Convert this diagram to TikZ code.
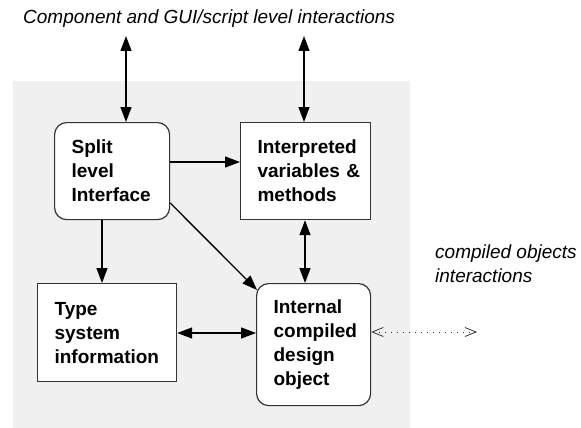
\documentclass[tikz,border=0pt]{standalone}
\usepackage{fontspec}
\setmainfont{Liberation Sans}
\usetikzlibrary{arrows.meta}
\definecolor{bggray}{HTML}{F0F0F0}
\definecolor{boxline}{HTML}{333333}
\tikzset{
  box/.style={draw=boxline, line width=1.2pt, fill=white, anchor=north west,
    inner xsep=17pt, inner ysep=0pt, align=left,
    font=\bfseries\fontsize{19}{24}\selectfont},
  rbox/.style={box, rounded corners=12pt},
  arr/.style={line width=1.3pt, -{Triangle[length=15pt,width=11pt]}},
  darr/.style={line width=1.3pt, {Triangle[length=15pt,width=11pt]}-{Triangle[length=15pt,width=11pt]}},
  dotarr/.style={line width=1pt, draw=black!80, dash pattern=on 1pt off 5pt,
    {Straight Barb[length=11pt,width=9pt,line width=0.8pt]}-{Straight Barb[length=11pt,width=9pt,line width=0.8pt]}},
  lab/.style={font=\itshape\fontsize{19}{24}\selectfont, inner sep=0pt, align=left}
}
\begin{document}
\begin{tikzpicture}[x=1pt,y=-1pt]
\useasboundingbox (0,0) rectangle (581,428);
\fill[bggray] (13,81) rectangle (410,428);

\node[rbox, minimum width=113pt, minimum height=97pt, text width=81pt] (split) at (54,122)
  {Split\\level\\Interface};
\node[box, minimum width=130pt, minimum height=97pt, text width=96pt] (interp) at (240,122)
  {Interpreted\\\mbox{variables \&}\\methods};
\node[box, minimum width=139pt, minimum height=98pt, text width=105pt] (type) at (37,283)
  {Type\\system\\information};
\node[rbox, minimum width=114pt, minimum height=122pt, text width=80pt] (internal) at (256,283)
  {Internal\\compiled\\design\\object};

\node[lab, anchor=base west] (top) at (23,24) {Component and GUI/script level interactions};
\node[lab, anchor=base west] (comp) at (435,282) {compiled objects\\interactions};

\coordinate (t1) at (126,36);
\coordinate (t2) at (304,36);
\coordinate (dend) at (477,332);

\draw[darr] (t1) -- (t1 |- split.north);
\draw[darr] (t2) -- (t2 |- interp.north);
\draw[arr] (split.east |- 0,162) -- (interp.west |- 0,162);
\draw[arr] (split.south -| 102,0) -- (type.north -| 102,0);
\draw[arr] (split.east |- 0,203) -- (257,290);
\draw[darr] (interp.south -| 305,0) -- (internal.north -| 305,0);
\draw[darr] (type.east |- 0,333) -- (internal.west |- 0,333);
\draw[dotarr] (internal.east |- 0,332) -- (dend);
\end{tikzpicture}
\end{document}
